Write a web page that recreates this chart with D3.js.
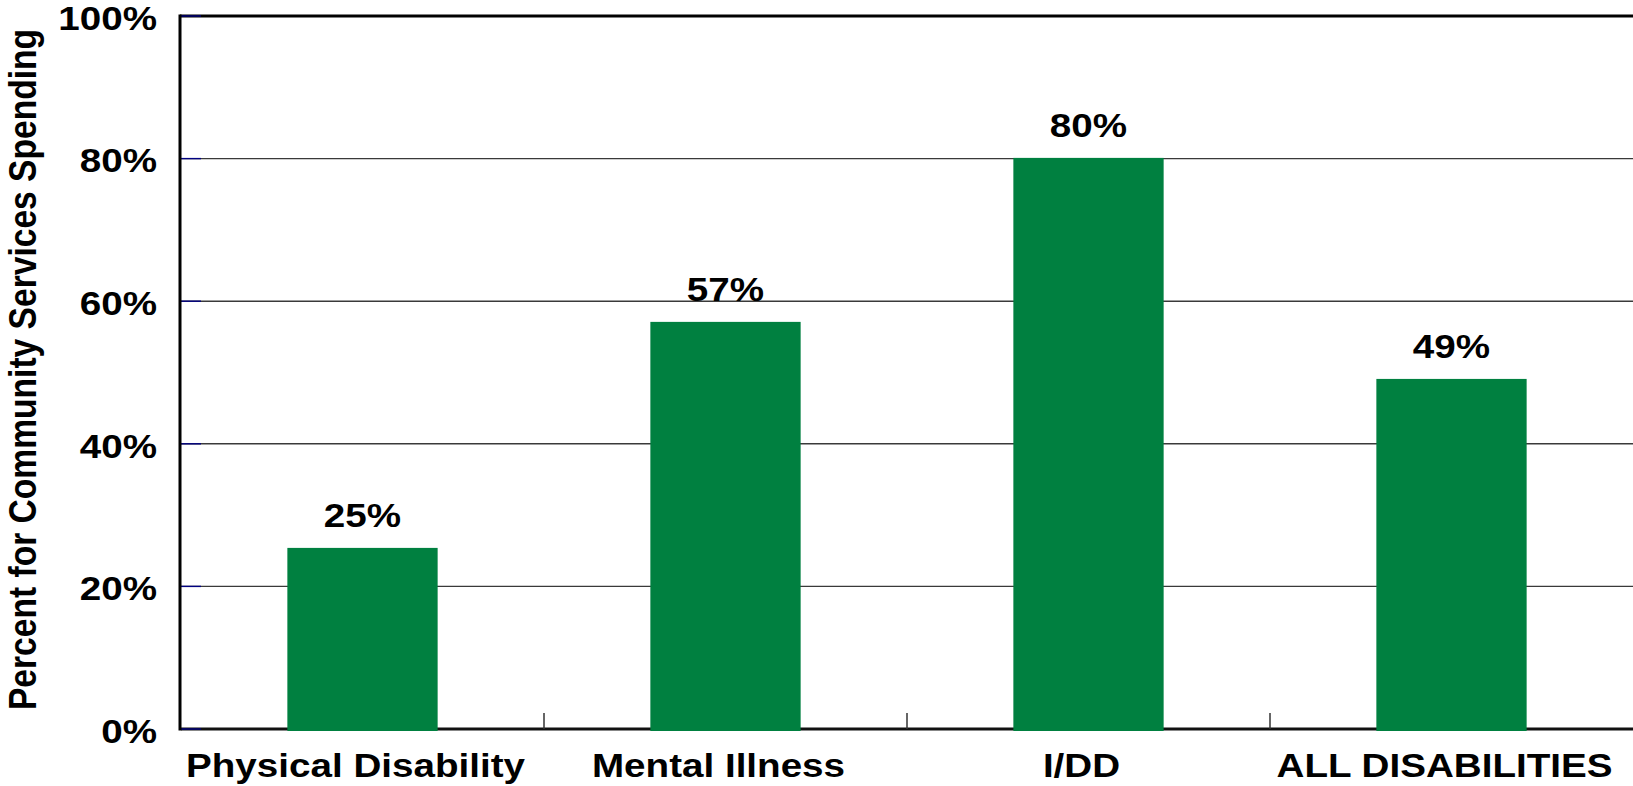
<!DOCTYPE html>
<html>
<head>
<meta charset="utf-8">
<script src="https://cdn.jsdelivr.net/npm/d3@7"></script>
<style>
  html, body { margin: 0; padding: 0; background: #fff; }
  svg { display: block; }
  text { font-family: "Liberation Sans", Arial, sans-serif; font-weight: bold; fill: #000; }
</style>
</head>
<body>
<svg id="chart" width="1633" height="786"></svg>
<script>
const categories = ["Physical Disability", "Mental Illness", "I/DD", "ALL DISABILITIES"];
const values = [25.4, 57.1, 80.1, 49.1];
const yTicks = [0, 20, 40, 60, 80, 100];
const yLabel = "Percent for Community Services Spending";

(function () {
const plotLeft = 181, plotRight = 1633, plotTop = 16, plotBottom = 729;
const sx = 1.17;            // horizontal stretch of the lettering
const fs = 33;
const barColor = "#008040";

const svg = d3.select("#chart");

const x = d3.scaleBand().domain(categories).range([plotLeft, plotRight])
  .paddingInner(0.586).paddingOuter(0.293);
const y = d3.scaleLinear().domain([0, 100]).range([plotBottom, plotTop]);

// gridlines
svg.append("g").selectAll("line").data(yTicks.filter(d => d > 0 && d < 100)).join("line")
  .attr("x1", plotLeft).attr("x2", plotRight)
  .attr("y1", d => y(d)).attr("y2", d => y(d))
  .attr("stroke", "#3a3a3a").attr("stroke-width", 1.4);

// top border (100%)
svg.append("line").attr("x1", plotLeft - 1).attr("x2", plotRight)
  .attr("y1", y(100)).attr("y2", y(100))
  .attr("stroke", "#000").attr("stroke-width", 3);

// bottom axis line
svg.append("line").attr("x1", plotLeft).attr("x2", plotRight)
  .attr("y1", y(0)).attr("y2", y(0))
  .attr("stroke", "#111").attr("stroke-width", 3);

// x ticks at band boundaries (pointing up)
const step = x.step();
const boundaries = categories.slice(1).map(c => x(c) - x.paddingInner() * step / 2);
svg.append("g").selectAll("line").data(boundaries).join("line")
  .attr("x1", d => d).attr("x2", d => d)
  .attr("y1", y(0)).attr("y2", y(0) - 16)
  .attr("stroke", "#333").attr("stroke-width", 1.5);

// bars
svg.append("g").selectAll("rect").data(values).join("rect")
  .attr("x", (d, i) => x(categories[i]))
  .attr("width", x.bandwidth())
  .attr("y", d => y(d))
  .attr("height", d => y(0) - y(d) + 2)
  .attr("fill", barColor);

// small navy ticks on the y axis (inside)
svg.append("g").selectAll("line").data(yTicks).join("line")
  .attr("x1", plotLeft).attr("x2", plotLeft + 20)
  .attr("y1", d => y(d)).attr("y2", d => y(d))
  .attr("stroke", "#000080").attr("stroke-width", 1.4);

// left axis line
svg.append("line").attr("x1", plotLeft - 1).attr("x2", plotLeft - 1)
  .attr("y1", y(100) - 1.5).attr("y2", y(0) + 1.5)
  .attr("stroke", "#000").attr("stroke-width", 3);

// y axis tick labels
const yAxis = d3.axisLeft(y).tickValues(yTicks).tickFormat(d => d + "%").tickSize(0);
const gy = svg.append("g").attr("transform", `translate(${plotLeft},0)`).call(yAxis);
gy.select(".domain").remove();
gy.selectAll("text")
  .attr("x", null).attr("dy", "0.4em")
  .attr("text-anchor", "end")
  .attr("transform", `translate(-24,0) scale(${sx},1)`)
  .style("font-size", fs + "px")
  .style("font-family", "'Liberation Sans', Arial, sans-serif")
  .style("font-weight", "bold")
  .attr("fill", "#000");

// x axis labels
const xAxis = d3.axisBottom(x).tickSize(0);
const gx = svg.append("g").attr("transform", `translate(0,${plotBottom})`).call(xAxis);
gx.select(".domain").remove();
gx.selectAll("text")
  .attr("y", null).attr("dy", null)
  .attr("text-anchor", "middle")
  .attr("transform", `translate(-7,48) scale(${sx},1)`)
  .style("font-size", fs + "px")
  .style("font-family", "'Liberation Sans', Arial, sans-serif")
  .style("font-weight", "bold")
  .attr("fill", "#000");

// value labels
svg.append("g").selectAll("text").data(values).join("text")
  .attr("text-anchor", "middle")
  .attr("transform", (d, i) => `translate(${x(categories[i]) + x.bandwidth() / 2},${y(d) - 21}) scale(${sx},1)`)
  .style("font-size", fs + "px")
  .text(d => Math.round(d) + "%");

// y axis title
svg.append("text")
  .attr("text-anchor", "middle")
  .attr("transform", `translate(36,${(31 + 708) / 2}) scale(${sx},1) rotate(-90)`)
  .style("font-size", "33.6px")
  .text(yLabel);
})();
</script>
</body>
</html>
